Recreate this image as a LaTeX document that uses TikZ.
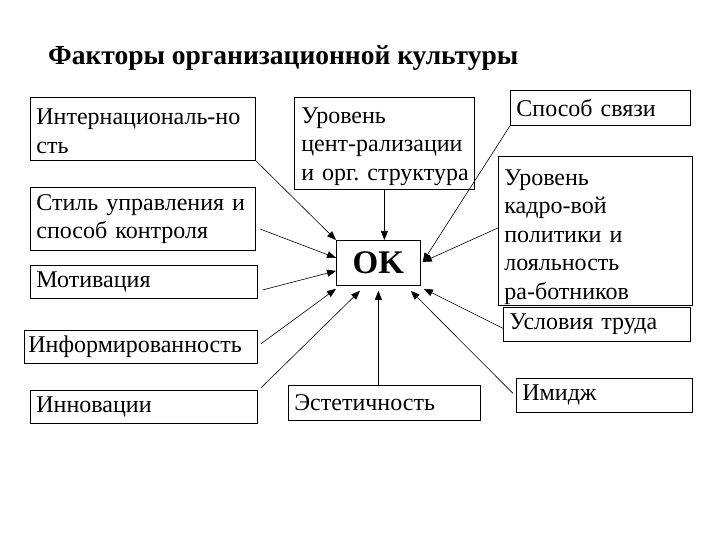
\documentclass[tikz,border=0pt]{standalone}
\usepackage{fontspec}
\setmainfont{Liberation Serif}
\usetikzlibrary{arrows.meta}
\begin{document}
\begin{tikzpicture}[x=1pt,y=-1pt,
  box/.style={draw, line width=0.8pt, anchor=north west, align=left, inner xsep=6pt, inner ysep=0pt,
    font=\fontsize{24}{28.5}\selectfont},
  arr/.style={-{Triangle[length=9pt,width=7pt]}, line width=0.6pt}]
\useasboundingbox (0,0) rectangle (720,540);
\node[anchor=west, font=\fontsize{27.5}{30}\selectfont\bfseries, inner sep=0pt] (title) at (48,58) {Факторы организационной культуры};
\node[box, text width=213pt, minimum height=63pt] (intern) at (30,97) {Интернациональ-но\\сть\vspace{-5pt}};
\node[box, text width=213pt, minimum height=63pt] (style) at (30,187) {Стиль управления и\\способ контроля};
\node[box, text width=215pt, minimum height=33pt] (motiv) at (30,265) {Мотивация};
\node[box, minimum height=33pt, inner xsep=4pt, text width=225pt] (inform) at (24,330) {Информированность};
\node[box, text width=215pt, minimum height=33pt] (innov) at (30,390) {Инновации};
\node[box, text width=176pt, inner xsep=2pt, minimum height=92pt] (centr) at (294,97) {\hspace*{5pt}Уровень\\\hspace*{5pt}цент-рализации\\\hspace*{5pt}и орг.~структура\vspace{-6pt}};
\node[draw, line width=0.8pt, anchor=north west, minimum width=84pt, minimum height=45pt, inner sep=0pt,
  font=\fontsize{33}{36}\selectfont\bfseries] (ok) at (336,240) {OK\hspace{8pt}};
\node[box, text width=168pt, minimum height=35pt] (sposob) at (510,90) {Способ связи};
\node[box, text width=182pt, minimum height=149pt] (kadr) at (498,156) {Уровень\\кадро-вой\\политики и\\лояльность\\ра-ботников\vspace{-12pt}};
\node[box, text width=175pt, minimum height=34pt] (usl) at (503,307) {Условия труда};
\node[box, text width=180pt, minimum height=35pt] (estet) at (288,385) {Эстетичность};
\node[box, text width=164pt, minimum height=34pt] (imidzh) at (516,378) {Имидж};
\draw[arr] (intern.south east) -- (ok.north west);
\draw[arr] ([xshift=4pt,yshift=-10pt]style.east) -- ([yshift=5pt]ok.west);
\draw[arr] ([xshift=5pt,yshift=-8pt]motiv.east) -- ([yshift=-8pt]ok.west);
\draw[arr] ([xshift=3pt,yshift=3pt]inform.east) -- ([yshift=-3pt]ok.south west);
\draw[arr] ([xshift=3pt,yshift=2pt]innov.north east) -- ([xshift=24pt,yshift=-5pt]ok.south west);
\draw[arr] ([xshift=-6pt]estet.north) -- ([yshift=-5pt]ok.south);
\draw[arr] ([xshift=-3pt,yshift=2pt]imidzh.west) -- ([xshift=-10pt,yshift=-5pt]ok.south east);
\draw[arr] ([yshift=-4pt]usl.west) -- ([xshift=3pt,yshift=-3pt]ok.south east);
\draw[arr] ([yshift=3pt]kadr.west) -- ([xshift=2pt,yshift=1pt]ok.east);
\draw[arr] (sposob.south west) -- ([xshift=2pt,yshift=1pt]ok.east);
\draw[arr] (centr.south) -- ([xshift=6pt]ok.north);
\end{tikzpicture}
\end{document}
